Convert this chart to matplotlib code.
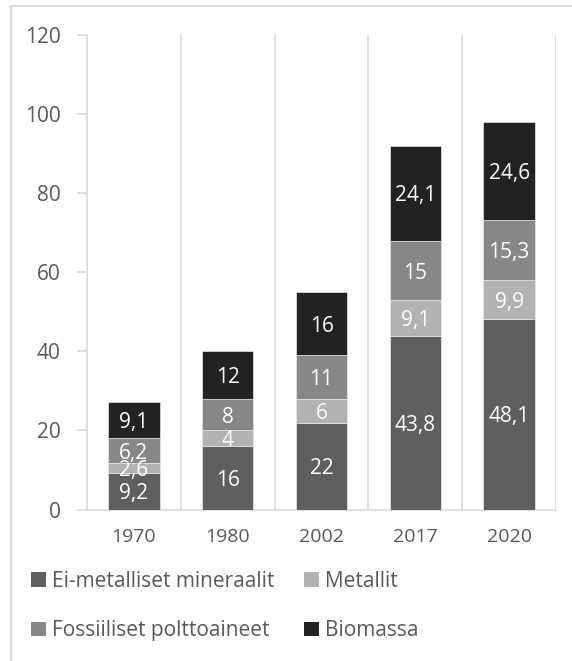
import matplotlib
matplotlib.use("Agg")
import matplotlib.pyplot as plt
from matplotlib.lines import Line2D
from matplotlib.patches import Patch
import numpy as np

plt.rcParams['font.family'] = ['Open Sans', 'DejaVu Sans']

years = ["1970", "1980", "2002", "2017", "2020"]
series_names = ["Ei-metalliset mineraalit", "Metallit", "Fossiiliset polttoaineet", "Biomassa"]
ei_metalliset = [9.2, 16, 22, 43.8, 48.1]
metallit = [2.6, 4, 6, 9.1, 9.9]
fossiiliset = [6.2, 8, 11, 15, 15.3]
biomassa = [9.1, 12, 16, 24.1, 24.6]
colors = ["#5f5f5f", "#b2b2b2", "#878787", "#222222"]
yticks = [0, 20, 40, 60, 80, 100, 120]

W, H = 572, 661
fig = plt.figure(figsize=(W / 100, H / 100), dpi=100)
ax = fig.add_axes([87 / W, 1 - 509.5 / H, (556 - 87) / W, (509.5 - 35) / H])

grid_c = "#d9d9d9"
x = np.arange(len(years))
bottom = np.zeros(len(years))
handles = []
for vals, name, col in zip([ei_metalliset, metallit, fossiiliset, biomassa], series_names, colors):
    vals = np.array(vals, dtype=float)
    ax.bar(x, vals, 0.55, bottom=bottom, color=col, edgecolor="#e8e8e8",
           linewidth=0.5, zorder=3, label=name)
    for xi, b, v in zip(x, bottom, vals):
        txt = f"{v:g}".replace(".", ",")
        ax.text(xi, b + v / 2, txt, ha="center", va="center_baseline", color="white",
                fontsize=15, zorder=4)
    bottom += vals
    handles.append(Patch(facecolor=col, edgecolor="none", label=name))

ax.set_xlim(-0.5, len(years) - 0.5)
ax.set_ylim(0, 120)
ax.set_yticks(yticks)
ax.set_yticklabels([str(t) for t in yticks])
ax.set_xticks(x)
ax.set_xticklabels(years)
ax.set_xticks(np.arange(len(years)) + 0.5, minor=True)
ax.grid(True, which="minor", axis="x", color=grid_c, linewidth=1.2, zorder=0)
ax.grid(False, which="major")
ax.tick_params(axis="y", which="major", length=7, width=1.2, color=grid_c,
               labelsize=15, labelcolor="#595959", pad=12)
ax.tick_params(axis="x", which="major", length=0, labelsize=14,
               labelcolor="#595959", pad=13)
ax.tick_params(axis="x", which="minor", length=0)
for s in ["top", "right"]:
    ax.spines[s].set_visible(False)
ax.spines["left"].set_color(grid_c)
ax.spines["left"].set_linewidth(1.2)
ax.spines["bottom"].set_color(grid_c)
ax.spines["bottom"].set_linewidth(1.2)

order = [0, 2, 1, 3]
leg = fig.legend([handles[i] for i in order], [series_names[i] for i in order],
                 ncol=2, loc="upper left", bbox_to_anchor=(31 / W, 1 - 571 / H),
                 frameon=False, fontsize=15, handlelength=0.7, handleheight=0.7,
                 handletextpad=0.3, columnspacing=1.45, labelspacing=1.35,
                 borderpad=0, borderaxespad=0, labelcolor="#595959")

# outer border
fig.add_artist(Line2D([10.5 / W, 10.5 / W], [0, 1 - 6 / H], transform=fig.transFigure,
                      color=grid_c, linewidth=1.5))
fig.add_artist(Line2D([10.5 / W, 1], [1 - 6 / H, 1 - 6 / H], transform=fig.transFigure,
                      color=grid_c, linewidth=1.5))

fig.savefig("out.png", dpi=100)
